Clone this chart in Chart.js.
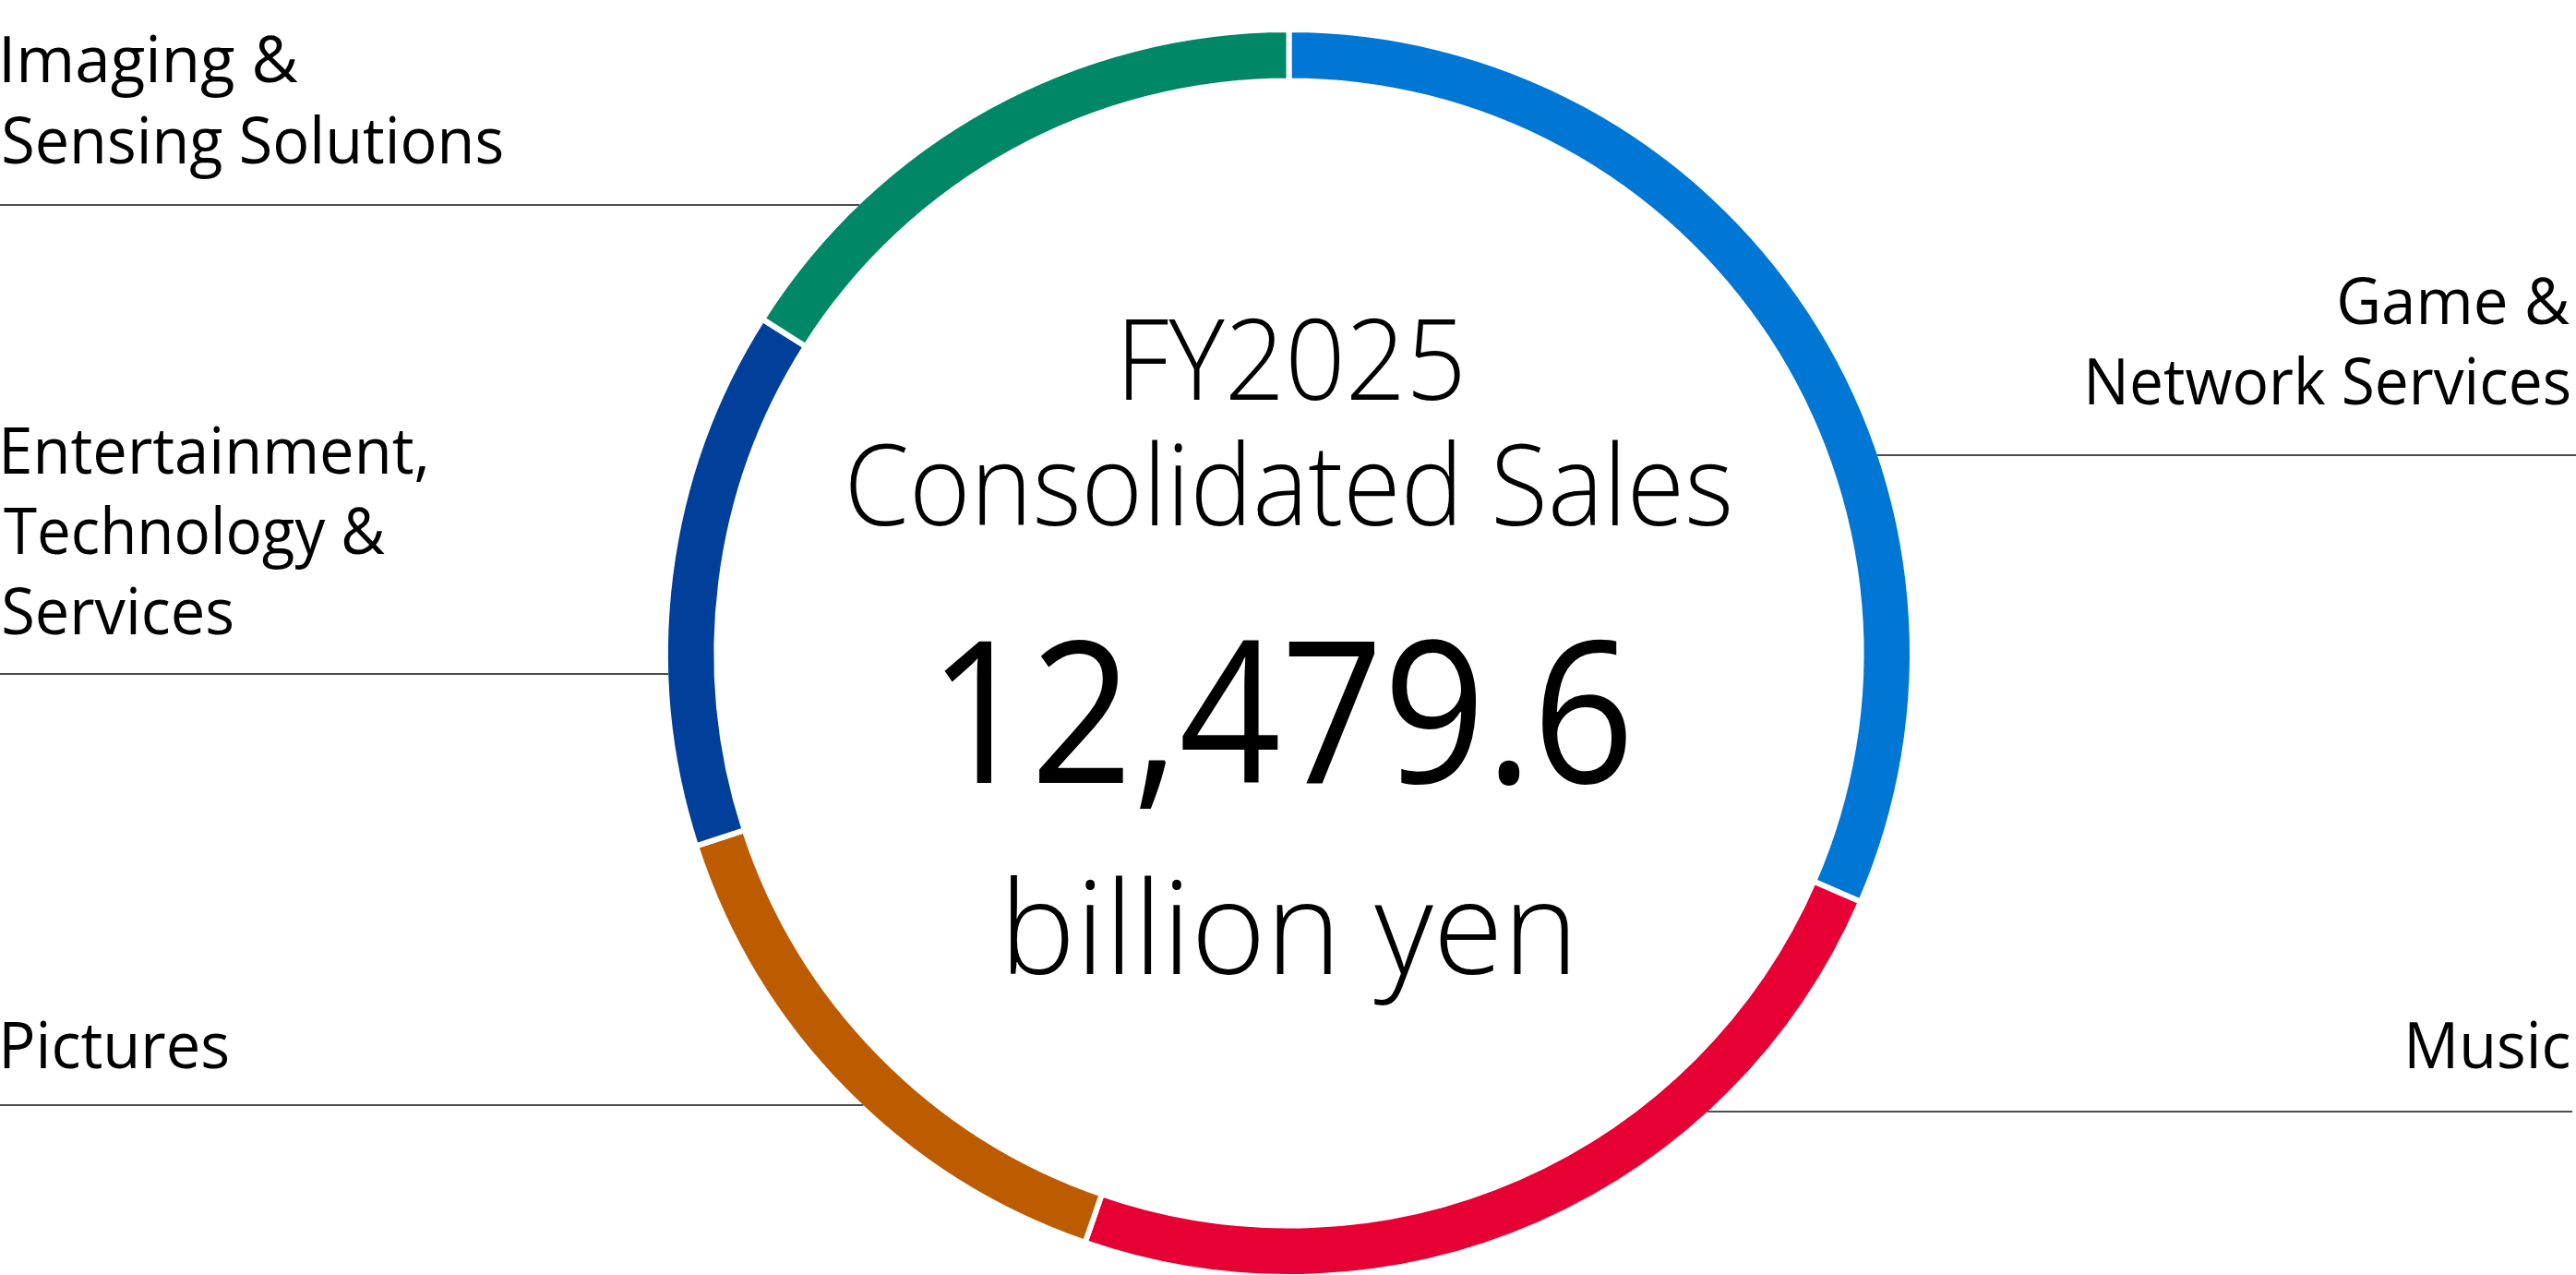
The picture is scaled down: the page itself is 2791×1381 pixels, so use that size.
<!DOCTYPE html>
<html>
<head>
<meta charset="utf-8">
<script src="https://cdn.jsdelivr.net/npm/chart.js@4.4.1/dist/chart.umd.min.js"></script>
<style>
html,body{margin:0;padding:0;background:#fff;overflow:hidden}
#wrap{position:relative;width:2791px;height:1381px}
</style>
</head>
<body>
<div id="wrap"><canvas id="c"></canvas></div>
<script>
// ---- data ----
const categories = ['Game & Network Services', 'Music', 'Pictures', 'Entertainment, Technology & Services', 'Imaging & Sensing Solutions'];
const salesValues = [3934, 2967, 1834, 1747, 1997];
const segmentColors = ['#0077D5', '#E60033', '#BD5B00', '#00409A', '#008766'];
const labelLines = [['Game &', 'Network Services'], ['Music'], ['Pictures'], ['Entertainment,', 'Technology &', 'Services'], ['Imaging &', 'Sensing Solutions']];
const centerTitle = ['FY2025', 'Consolidated Sales'];
const centerValue = '12,479.6';
const centerUnit = 'billion yen';

// ---- layout (positions / sizes / styles) ----
const FONT = '"Open Sans", "Noto Sans", sans-serif';
const labelLayout = [
  { side: 'right', baselines: [351, 438], widths: [249, 521], rule: 493, ruleEnd: 2791 },
  { side: 'right', baselines: [1157], widths: [174], rule: 1204, ruleEnd: 2787 },
  { side: 'left', baselines: [1157], widths: [243], rule: 1197 },
  { side: 'left', baselines: [513, 600, 687], widths: [457, 413, 248], rule: 730 },
  { side: 'left', baselines: [89, 177], widths: [319, 540], rule: 222 }
];
const LABEL_INK_LEFT = 4, LABEL_INK_RIGHT = 2784, LABEL_CAP = 51, LABEL_WEIGHT = 400;
const centerLayout = [
  { text: () => centerTitle[0], weight: 300, ref: 'H', refH: 86, baseline: 433, left: 1220, width: 362 },
  { text: () => centerTitle[1], weight: 300, ref: 'H', refH: 86, baseline: 569, left: 921, width: 952 },
  { text: () => centerValue, weight: 500, ref: '4', refH: 157, baseline: 848, left: 1023, width: 739 },
  { text: () => centerUnit, weight: 300, ref: 'b', refH: 106, baseline: 1055, left: 1095, width: 604 }
];

function sizeFor(ctx, weight, ref, refH) {
  ctx.font = weight + ' 100px ' + FONT;
  const m = ctx.measureText(ref);
  return refH / m.actualBoundingBoxAscent * 100;
}
function drawFit(ctx, text, weight, size, baseline, width, anchor, pos) {
  ctx.font = weight + ' ' + size.toFixed(2) + 'px ' + FONT;
  ctx.textAlign = 'left';
  ctx.textBaseline = 'alphabetic';
  const m = ctx.measureText(text);
  const ink = m.actualBoundingBoxLeft + m.actualBoundingBoxRight;
  const sx = width / ink;
  let x;
  if (anchor === 'left') x = pos + m.actualBoundingBoxLeft * sx;
  else x = pos - m.actualBoundingBoxRight * sx;
  ctx.save();
  ctx.translate(x, baseline);
  ctx.scale(sx, 1);
  ctx.fillText(text, 0, 0);
  ctx.restore();
}

const overlay = {
  id: 'overlay',
  afterDraw(chart) {
    const ctx = chart.ctx;
    const arc = chart.getDatasetMeta(0).data[0];
    const cx = arc.x, cy = arc.y;
    const R = arc.outerRadius - chart.data.datasets[0].borderWidth / 2;
    ctx.save();
    ctx.strokeStyle = '#4d4d4d';
    ctx.lineWidth = 2;
    labelLayout.forEach(l => {
      const dy = l.rule - cy;
      const half = Math.sqrt(Math.max(R * R - dy * dy, 0));
      ctx.beginPath();
      if (l.side === 'left') { ctx.moveTo(0, l.rule); ctx.lineTo(cx - half, l.rule); }
      else { ctx.moveTo(cx + half, l.rule); ctx.lineTo(l.ruleEnd, l.rule); }
      ctx.stroke();
    });
    ctx.fillStyle = '#000';
    const lSize = sizeFor(ctx, LABEL_WEIGHT, 'H', LABEL_CAP);
    labelLayout.forEach((l, i) => {
      labelLines[i].forEach((t, j) => {
        drawFit(ctx, t, LABEL_WEIGHT, lSize, l.baselines[j], l.widths[j], l.side,
          l.side === 'left' ? LABEL_INK_LEFT : LABEL_INK_RIGHT);
      });
    });
    centerLayout.forEach(c => {
      const s = sizeFor(ctx, c.weight, c.ref, c.refH);
      drawFit(ctx, c.text(), c.weight, s, c.baseline, c.width, 'left', c.left);
    });
    ctx.restore();
  }
};

new Chart(document.getElementById('c'), {
  type: 'doughnut',
  data: {
    labels: categories,
    datasets: [{
      data: salesValues,
      backgroundColor: segmentColors,
      borderColor: '#ffffff',
      borderWidth: 6,
      radius: 675.5,
      cutout: 615.5,
      hoverOffset: 0,
      clip: false
    }]
  },
  options: {
    responsive: true,
    maintainAspectRatio: false,
    devicePixelRatio: 1,
    animation: false,
    rotation: 0,
    layout: { padding: { top: 34, left: 2, right: 0, bottom: 0 } },
    plugins: { legend: { display: false }, tooltip: { enabled: false } },
    events: []
  },
  plugins: [overlay]
});
</script>
</body>
</html>
